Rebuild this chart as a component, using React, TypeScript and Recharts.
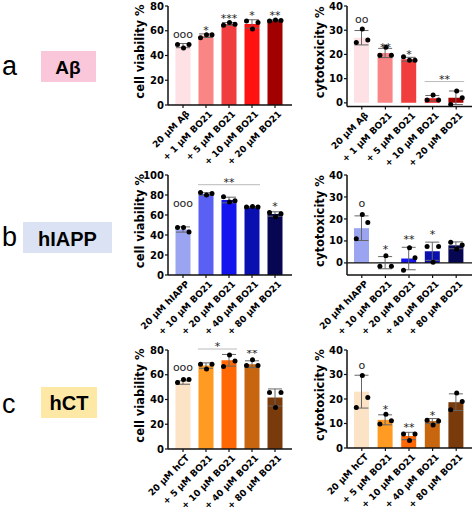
import React from 'react';
import { ComposedChart, Bar, Cell, XAxis, YAxis, ErrorBar, Scatter, ReferenceLine } from 'recharts';

// ---------------- data ----------------
const abetaLabels = ['20 µM Aβ', '+ 1 µM BO21', '+ 5 µM BO21', '+ 10 µM BO21', '+ 20 µM BO21'];
const hiappLabels = ['20 µM hIAPP', '+ 10 µM BO21', '+ 20 µM BO21', '+ 40 µM BO21', '+ 80 µM BO21'];
const hctLabels = ['20 µM hCT', '+ 5 µM BO21', '+ 10 µM BO21', '+ 40 µM BO21', '+ 80 µM BO21'];

const abetaColors = ['#fde1e4', '#f98585', '#f03e3e', '#ff1212', '#a20000'];
const hiappColors = ['#9ba4f0', '#5b60f5', '#1414ee', '#0a10b0', '#060652'];
const hctColors = ['#fde3c6', '#ff9a22', '#ff6805', '#c8660f', '#7a3b0c'];

// Aβ – cell viability
const abetaViabMean = [48, 56, 65.5, 65.5, 68.5];
const abetaViabReps = [[48.9, 46, 48.9], [54.3, 56.8, 56.8], [64.4, 66.6, 65.2], [67.9, 61.5, 66.6], [67.9, 68.6, 68.2]];
const abetaViabSig = ['ooo', '*', '***', '*', '**'];
const abetaViabSigLevel = [57, 63, 72.7, 74.7, 74.7];

// Aβ – cytotoxicity
const abetaCytoMean = [26.9, 20.6, 18, 1.9, 2.1];
const abetaCytoReps = [[24.9, 30.5, 26], [19.7, 23, 19.7], [19, 17.6, 17.6], [1.2, 3.2, 1.2], [-0.7, 4.9, 2.1]];
const abetaCytoSig = ['oo', '**', '*', '', ''];
const abetaCytoSigLevel = [34.2, 24.1, 21.2, 0, 0];
const abetaCytoBracket = { from: 3, to: 4, level: 8.8, text: '**' };

// hIAPP – cell viability
const hiappViabMean = [45.5, 81, 75, 68, 61];
const hiappViabReps = [[47.5, 47.5, 43], [82.6, 80, 81.6], [78.3, 72.9, 74.2], [67.9, 68.6, 67.9], [62.5, 58.2, 61.2]];
const hiappViabSig = ['ooo', '', '', '', '*'];
const hiappViabSigLevel = [71.5, 0, 0, 0, 72];
const hiappViabBracket = { from: 1, to: 3, level: 90.3, text: '**' };

// hIAPP – cytotoxicity
const hiappCytoMean = [15.8, 0.1, 2, 5.3, 8];
const hiappCytoReps = [[11, 22, 18.4], [-1.5, 3.3, -1.5], [-3.3, 6.9, 2.4], [7.5, 0.3, 7.5], [9.4, 6.3, 8.2]];
const hiappCytoSig = ['o', '*', '**', '*', ''];
const hiappCytoSigLevel = [26.8, 7.4, 12, 14.2, 0];

// hCT – cell viability
const hctViabMean = [53.7, 67.4, 71.7, 68.5, 41.6];
const hctViabReps = [[53.7, 56.1, 56.1], [68.5, 64.7, 68.5], [66.6, 76, 71.1], [67.4, 72.2, 67.4], [45.6, 33.6, 45.6]];
const hctViabSig = ['ooo', '', '', '**', ''];
const hctViabSigLevel = [65.2, 0, 0, 79.6, 0];
const hctViabBracket = { from: 1, to: 2, level: 80.8, text: '*' };

// hCT – cytotoxicity
const hctCytoMean = [23, 11.5, 4.9, 11, 18.7];
const hctCytoReps = [[16.5, 29.6, 20.6], [9.8, 13.8, 11.1], [5.7, 3.1, 5.7], [11.3, 9.4, 11], [15.6, 22.4, 19]];
const hctCytoSig = ['o', '*', '**', '*', ''];
const hctCytoSigLevel = [33.7, 16.9, 9.8, 14.7, 0];

const viab80Ticks = [0, 20, 40, 60, 80];
const viab100Ticks = [0, 20, 40, 60, 80, 100];
const cytoTicks = [0, 10, 20, 30, 40];

// ---------------- helpers ----------------
const FONT = '"DejaVu Sans", Verdana, sans-serif';
const JITTER = [-5.5, 0.5, 6];

function buildRows(labels: string[], means: number[], reps: number[][], sig: string[], sigLevel: number[]) {
  return labels.map((label, i) => {
    const r = reps[i];
    const m = r.reduce((a, b) => a + b, 0) / r.length;
    const sd = Math.sqrt(r.reduce((a, b) => a + (b - m) * (b - m), 0) / (r.length - 1));
    return { label, mean: means[i], sd, r0: r[0], r1: r[1], r2: r[2], sig: sig[i], sigY: sigLevel[i] };
  });
}

function XTick(props: any) {
  const { x, y, payload } = props;
  const ax = x + 2.5;
  const ay = y;
  return (
    <text x={ax} y={ay} transform={`rotate(-45, ${ax}, ${ay})`} textAnchor="end" dy="0.7em"
      fontFamily={FONT} fontWeight="bold" fontSize={9} fill="#000">
      {payload.value}
    </text>
  );
}

function SigShape(p: any) {
  const s = p.payload && p.payload.sig;
  if (!s || !isFinite(p.cy)) return <g />;
  const fs = 11;
  const dy = s.includes('*') ? 0.6 * fs : 0.28 * fs;
  return (
    <text x={p.cx} y={p.cy + dy} textAnchor="middle" fontFamily={FONT} fontSize={fs} fill="#222">{s}</text>
  );
}

type PanelProps = {
  left: number; top: number; width: number; height: number;
  plotTop: number; yAxisWidth: number; marginRight: number; xHeight: number;
  padL: number; padR: number;
  rows: any[]; colors: string[]; domain: [number, number]; ticks: number[];
  title: string; bracket?: { from: number; to: number; level: number; text: string };
  zeroLine?: boolean;
};

function Panel(props: PanelProps) {
  const { left, top, width, height, plotTop, yAxisWidth, marginRight, xHeight, padL, padR, rows, colors, domain, ticks, title, bracket, zeroLine } = props;
  const titleContent = (p: any) => {
    const vb = p.viewBox || {};
    const cx = (vb.x ?? 0) + 12;
    const cy = (vb.y ?? 0) + (vb.height ?? 0) / 2 - 4;
    return (
      <text x={cx} y={cy} transform={`rotate(-90, ${cx}, ${cy})`} textAnchor="middle" dominantBaseline="central"
        fontFamily={FONT} fontWeight="bold" fontSize={11.5} fill="#000">{title}</text>
    );
  };
  return (
    <div style={{ position: 'absolute', left, top, width, height }}>
      <ComposedChart width={width} height={height} data={rows}
        margin={{ top: plotTop, right: marginRight, left: 0, bottom: 0 }}>
        <XAxis dataKey="label" interval={0} tick={<XTick />} height={xHeight}
          padding={{ left: padL, right: padR }} tickSize={3}
          axisLine={{ stroke: '#111', strokeWidth: 1.5 }} tickLine={{ stroke: '#111', strokeWidth: 1.2 }} />
        <YAxis type="number" domain={domain} ticks={ticks} allowDataOverflow width={yAxisWidth}
          tickSize={3} tickMargin={1} interval={0}
          axisLine={{ stroke: '#111', strokeWidth: 1.5 }} tickLine={{ stroke: '#111', strokeWidth: 1.2 }}
          tick={{ fontFamily: FONT, fontWeight: 'bold', fontSize: 10, fill: '#000' }}
          label={titleContent} />
        {zeroLine && <ReferenceLine y={0} stroke="#111" strokeWidth={1.3} />}
        <Bar dataKey="mean" barSize={15} isAnimationActive={false}>
          {rows.map((r, i) => <Cell key={i} fill={colors[i]} />)}
          <ErrorBar dataKey="sd" width={7} stroke="#666" strokeWidth={1} direction="y" />
        </Bar>
        {[0, 1, 2].map(k => (
          <Scatter key={k} dataKey={`r${k}`} isAnimationActive={false}
            shape={(p: any) => <circle cx={p.cx + JITTER[k]} cy={p.cy} r={2.5} fill="#000" />} />
        ))}
        <Scatter dataKey="sigY" isAnimationActive={false} shape={SigShape} />
        {bracket && (
          <ReferenceLine ifOverflow="visible"
            segment={[{ x: rows[bracket.from].label, y: bracket.level }, { x: rows[bracket.to].label, y: bracket.level }]}
            shape={(p: any) => (
              <g>
                <line x1={p.x1 - 8} x2={p.x2 + 8} y1={p.y1} y2={p.y2} stroke="#bbb" strokeWidth={1} />
                <text x={(p.x1 + p.x2) / 2} y={p.y1 + 1} textAnchor="middle" fontFamily={FONT} fontSize={11} fill="#222">{bracket.text}</text>
              </g>
            )} />
        )}
      </ComposedChart>
    </div>
  );
}

const L = { left: 128, width: 170, yAxisWidth: 40, marginRight: 6, padL: 3.5, padR: 5.5 };
const R = { left: 308, width: 167, yAxisWidth: 39, marginRight: 3, padL: 3, padR: 4 };

export default function App() {
  const aV = buildRows(abetaLabels, abetaViabMean, abetaViabReps, abetaViabSig, abetaViabSigLevel);
  const aC = buildRows(abetaLabels, abetaCytoMean, abetaCytoReps, abetaCytoSig, abetaCytoSigLevel);
  const bV = buildRows(hiappLabels, hiappViabMean, hiappViabReps, hiappViabSig, hiappViabSigLevel);
  const bC = buildRows(hiappLabels, hiappCytoMean, hiappCytoReps, hiappCytoSig, hiappCytoSigLevel);
  const cV = buildRows(hctLabels, hctViabMean, hctViabReps, hctViabSig, hctViabSigLevel);
  const cC = buildRows(hctLabels, hctCytoMean, hctCytoReps, hctCytoSig, hctCytoSigLevel);

  return (
    <div style={{ position: 'absolute', left: 0, top: 0, width: 475, height: 513, background: '#fff', overflow: 'hidden' }}>
      <svg width={130} height={513} style={{ position: 'absolute', left: 0, top: 0 }}>
        <g fontFamily='"Liberation Sans", Arial, sans-serif'>
          <text x={2} y={75} fontSize={27} fill="#000">a</text>
          <rect x={41} y={51} width={55} height={31} fill="#f9c6da" />
          <text x={68} y={73.5} fontSize={19} fontWeight="bold" textAnchor="middle" fill="#000">Aβ</text>

          <text x={2} y={246} fontSize={27} fill="#000">b</text>
          <rect x={23} y={222} width={89} height={31} fill="#dbe2f4" />
          <text x={67.5} y={246} fontSize={20} fontWeight="bold" textAnchor="middle" fill="#000">hIAPP</text>

          <text x={2} y={412.5} fontSize={27} fill="#000">c</text>
          <rect x={41} y={387} width={56} height={31} fill="#fde8a6" />
          <text x={69} y={410} fontSize={20} fontWeight="bold" textAnchor="middle" fill="#000">hCT</text>
        </g>
      </svg>

      <Panel {...L} top={0} height={168} plotTop={6} xHeight={63} rows={aV} colors={abetaColors}
        domain={[0, 80]} ticks={viab80Ticks} title="cell viability %" />
      <Panel {...R} top={0} height={168} plotTop={6} xHeight={61.5} rows={aC} colors={abetaColors}
        domain={[-1.5, 40]} ticks={cytoTicks} title="cytotoxicity %" bracket={abetaCytoBracket} />

      <Panel {...L} top={168} height={172} plotTop={7} xHeight={65} rows={bV} colors={hiappColors}
        domain={[0, 100]} ticks={viab100Ticks} title="cell viability %" bracket={hiappViabBracket} />
      <Panel {...R} top={168} height={172} plotTop={7} xHeight={65} rows={bC} colors={hiappColors}
        domain={[-5.5, 40]} ticks={cytoTicks} title="cytotoxicity %" zeroLine />

      <Panel {...L} top={340} height={173} plotTop={10} xHeight={64} rows={cV} colors={hctColors}
        domain={[0, 80]} ticks={viab80Ticks} title="cell viability %" bracket={hctViabBracket} />
      <Panel {...R} top={340} height={173} plotTop={10} xHeight={65} rows={cC} colors={hctColors}
        domain={[0, 40]} ticks={cytoTicks} title="cytotoxicity %" />
    </div>
  );
}
